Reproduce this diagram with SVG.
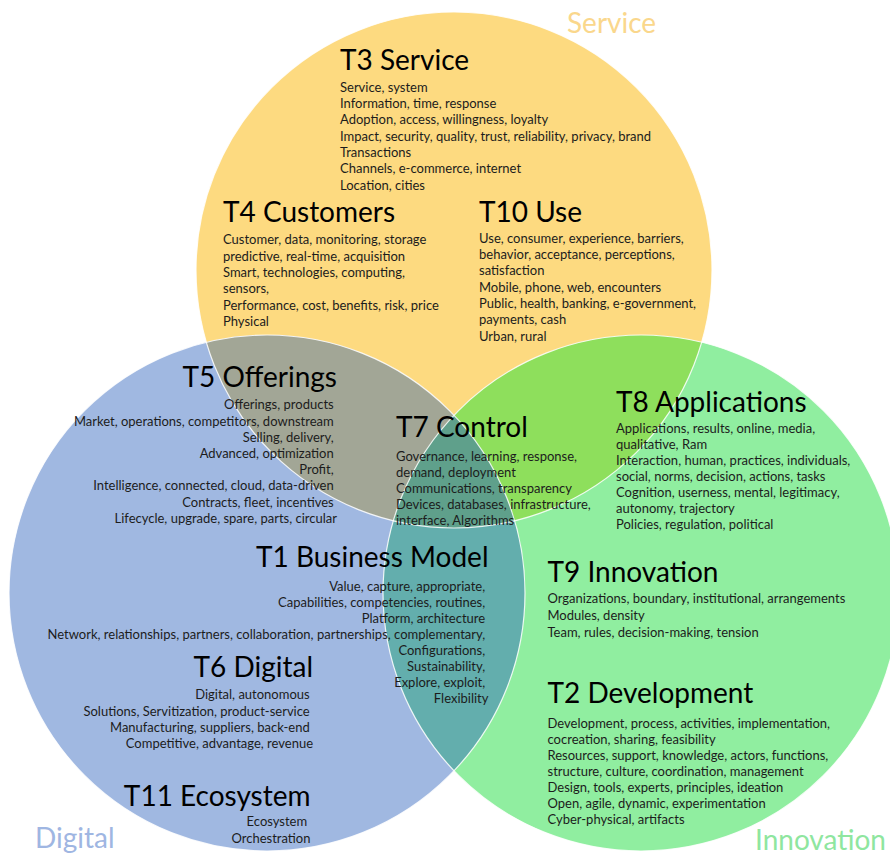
<svg xmlns="http://www.w3.org/2000/svg" width="890" height="855" viewBox="0 0 890 855">
  <style>
    text { font-family: Lato, "Open Sans", "Liberation Sans", sans-serif; }
    .title { font-size: 28px; fill: #000000; }
    .body { font-size: 13px; fill: #1c1c1c; }
    .end { text-anchor: end; }
    .set { font-size: 28px; }
    .ring { fill: none; stroke: #ffffff; stroke-width: 1.2; stroke-opacity: 0.85; }
  </style>
  <defs>
    <circle id="cirY" cx="454" cy="270" r="258"/>
    <circle id="cirB" cx="267" cy="593" r="258"/>
    <circle id="cirG" cx="641" cy="593" r="258"/>
    <clipPath id="clipY"><use href="#cirY"/></clipPath>
    <clipPath id="clipB"><use href="#cirB"/></clipPath>
  </defs>

  <rect width="890" height="855" fill="#ffffff"/>

  <!-- Venn fields: three sets, then their overlaps -->
  <g id="venn">
    <use href="#cirY" fill="#FDDA80"/>
    <use href="#cirB" fill="#A0B8E1"/>
    <use href="#cirG" fill="#90EEA0"/>
    <use href="#cirB" fill="#A2A696" clip-path="url(#clipY)"/>
    <use href="#cirG" fill="#8EDF5C" clip-path="url(#clipY)"/>
    <use href="#cirG" fill="#63AEAD" clip-path="url(#clipB)"/>
    <g clip-path="url(#clipY)">
      <use href="#cirG" fill="#5FA08B" clip-path="url(#clipB)"/>
    </g>
    <use href="#cirY" class="ring"/>
    <use href="#cirB" class="ring"/>
    <use href="#cirG" class="ring"/>
  </g>

  <!-- set names -->
  <text class="set" x="567" y="33" fill="#FAD78C">Service</text>
  <text class="set" x="35" y="848" fill="#9FB6E2">Digital</text>
  <text class="set" x="755" y="850" fill="#8FE69F">Innovation</text>

  <g id="t3">
    <text class="title" x="340" y="70">T3 Service</text>
    <text class="body" x="340" y="91.7">
      <tspan x="340">Service, system</tspan>
      <tspan x="340" dy="16.3">Information, time, response</tspan>
      <tspan x="340" dy="16.3">Adoption, access, willingness, loyalty</tspan>
      <tspan x="340" dy="16.3">Impact, security, quality, trust, reliability, privacy, brand</tspan>
      <tspan x="340" dy="16.3">Transactions</tspan>
      <tspan x="340" dy="16.3">Channels, e-commerce, internet</tspan>
      <tspan x="340" dy="16.3">Location, cities</tspan>
    </text>
  </g>

  <g id="t4">
    <text class="title" x="223" y="222">T4 Customers</text>
    <text class="body" x="223" y="244.3">
      <tspan x="223">Customer, data, monitoring, storage</tspan>
      <tspan x="223" dy="16.3">predictive, real-time, acquisition</tspan>
      <tspan x="223" dy="16.3">Smart, technologies, computing,</tspan>
      <tspan x="223" dy="16.3">sensors,</tspan>
      <tspan x="223" dy="16.3">Performance, cost, benefits, risk, price</tspan>
      <tspan x="223" dy="16.3">Physical</tspan>
    </text>
  </g>

  <g id="t10">
    <text class="title" x="479" y="221.7">T10 Use</text>
    <text class="body" x="479" y="242.7">
      <tspan x="479">Use, consumer, experience, barriers,</tspan>
      <tspan x="479" dy="16.3">behavior, acceptance, perceptions,</tspan>
      <tspan x="479" dy="16.3">satisfaction</tspan>
      <tspan x="479" dy="16.3">Mobile, phone, web, encounters</tspan>
      <tspan x="479" dy="16.3">Public, health, banking, e-government,</tspan>
      <tspan x="479" dy="16.3">payments, cash</tspan>
      <tspan x="479" dy="16.3">Urban, rural</tspan>
    </text>
  </g>

  <g id="t5">
    <text class="title end" x="337" y="387.3">T5 Offerings</text>
    <text class="body end" x="337" y="409.3">
      <tspan x="337">Offerings, products</tspan>
      <tspan x="337" dy="16.2">Market, operations, competitors, downstream</tspan>
      <tspan x="337" dy="16.2">Selling, delivery,</tspan>
      <tspan x="337" dy="16.2">Advanced, optimization</tspan>
      <tspan x="337" dy="16.2">Profit,</tspan>
      <tspan x="337" dy="16.2">Intelligence, connected, cloud, data-driven</tspan>
      <tspan x="337" dy="16.2">Contracts, fleet, incentives</tspan>
      <tspan x="337" dy="16.2">Lifecycle, upgrade, spare, parts, circular</tspan>
    </text>
  </g>

  <g id="t7">
    <text class="title" x="396" y="437.3">T7 Control</text>
    <text class="body" x="396" y="460.7">
      <tspan x="396">Governance, learning, response,</tspan>
      <tspan x="396" dy="16">demand, deployment</tspan>
      <tspan x="396" dy="16">Communications, transparency</tspan>
      <tspan x="396" dy="16">Devices, databases, infrastructure,</tspan>
      <tspan x="396" dy="16">interface, Algorithms</tspan>
    </text>
  </g>

  <g id="t8">
    <text class="title" x="616" y="411.7">T8 Applications</text>
    <text class="body" x="616" y="432.7">
      <tspan x="616">Applications, results, online, media,</tspan>
      <tspan x="616" dy="16.05">qualitative, Ram</tspan>
      <tspan x="616" dy="16.05">Interaction, human, practices, individuals,</tspan>
      <tspan x="616" dy="16.05">social, norms, decision, actions, tasks</tspan>
      <tspan x="616" dy="16.05">Cognition, userness, mental, legitimacy,</tspan>
      <tspan x="616" dy="16.05">autonomy, trajectory</tspan>
      <tspan x="616" dy="16.05">Policies, regulation, political</tspan>
    </text>
  </g>

  <g id="t1">
    <text class="title end" x="488.5" y="567.3">T1 Business Model</text>
    <text class="body end" x="488.5" y="590.7">
      <tspan x="488.5">Value, capture, appropriate,</tspan>
      <tspan x="488.5" dy="16.1">Capabilities, competencies, routines,</tspan>
      <tspan x="488.5" dy="16.1">Platform, architecture</tspan>
      <tspan x="488.5" dy="16.1">Network, relationships, partners, collaboration, partnerships, complementary,</tspan>
      <tspan x="488.5" dy="16.1">Configurations,</tspan>
      <tspan x="488.5" dy="16.1">Sustainability,</tspan>
      <tspan x="488.5" dy="16.1">Explore, exploit,</tspan>
      <tspan x="488.5" dy="16.1">Flexibility</tspan>
    </text>
  </g>

  <g id="t6">
    <text class="title end" x="313" y="676.7">T6 Digital</text>
    <text class="body end" x="313" y="699.3">
      <tspan x="313">Digital, autonomous</tspan>
      <tspan x="313" dy="16.2">Solutions, Servitization, product-service</tspan>
      <tspan x="313" dy="16.2">Manufacturing, suppliers, back-end</tspan>
      <tspan x="313" dy="16.2">Competitive, advantage, revenue</tspan>
    </text>
  </g>

  <g id="t11">
    <text class="title end" x="310.5" y="806">T11 Ecosystem</text>
    <text class="body end" x="310.5" y="826">
      <tspan x="310.5">Ecosystem</tspan>
      <tspan x="310.5" dy="16.7">Orchestration</tspan>
    </text>
  </g>

  <g id="t9">
    <text class="title" x="547.5" y="582.3">T9 Innovation</text>
    <text class="body" x="547.5" y="603.3">
      <tspan x="547.5">Organizations, boundary, institutional, arrangements</tspan>
      <tspan x="547.5" dy="16.7">Modules, density</tspan>
      <tspan x="547.5" dy="16.7">Team, rules, decision-making, tension</tspan>
    </text>
  </g>

  <g id="t2">
    <text class="title" x="547.5" y="703.3">T2 Development</text>
    <text class="body" x="547.5" y="727.7">
      <tspan x="547.5">Development, process, activities, implementation,</tspan>
      <tspan x="547.5" dy="16">cocreation, sharing, feasibility</tspan>
      <tspan x="547.5" dy="16">Resources, support, knowledge, actors, functions,</tspan>
      <tspan x="547.5" dy="16">structure, culture, coordination, management</tspan>
      <tspan x="547.5" dy="16">Design, tools, experts, principles, ideation</tspan>
      <tspan x="547.5" dy="16">Open, agile, dynamic, experimentation</tspan>
      <tspan x="547.5" dy="16">Cyber-physical, artifacts</tspan>
    </text>
  </g>
</svg>
